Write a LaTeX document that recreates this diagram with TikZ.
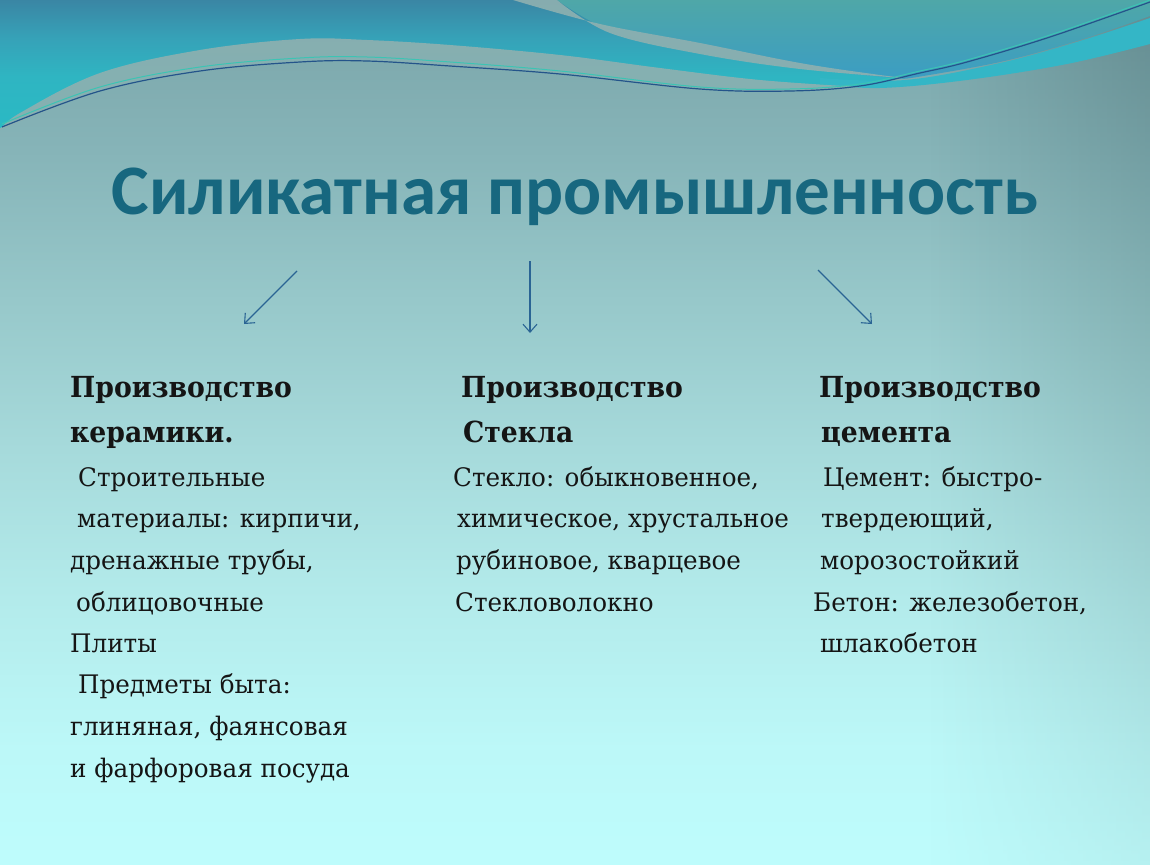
\documentclass[tikz,border=0pt]{standalone}
\usepackage{fontspec}
\setmainfont{DejaVu Serif}
\newfontfamily\bodyfont{DejaVu Serif}[FakeStretch=0.965]
\newfontfamily\headfont{DejaVu Serif}[FakeStretch=0.92]
\newfontfamily\titlefont{Carlito}
\usetikzlibrary{arrows.meta,fadings}
\definecolor{bg1}{HTML}{7AA4A8}
\definecolor{bg2}{HTML}{86B4B8}
\definecolor{bg3}{HTML}{97C8CA}
\definecolor{bg4}{HTML}{A6DADB}
\definecolor{bg5}{HTML}{B3EBEB}
\definecolor{bg6}{HTML}{BCF8F8}
\definecolor{bg7}{HTML}{BEFCFC}
\definecolor{tl1}{HTML}{3A86A4}
\definecolor{tl2}{HTML}{36A2B8}
\definecolor{tl3}{HTML}{2FB5C2}
\definecolor{tl4}{HTML}{2AB9C4}
\definecolor{rtop}{HTML}{4FA7A8}
\definecolor{rbot}{HTML}{3B9DC3}
\definecolor{turq}{HTML}{34B6C6}
\definecolor{grayband}{HTML}{8DB0B0}
\definecolor{darkline}{HTML}{24548A}
\definecolor{greenline}{HTML}{3CC4B4}
\definecolor{titlecol}{HTML}{17677F}
\definecolor{txtcol}{HTML}{151515}
\definecolor{arrcol}{HTML}{2A6494}
\definecolor{edgetop}{HTML}{4F7479}
\definecolor{edgebot}{HTML}{AEE6E6}
\pgfdeclareverticalshading{bgshade}{100bp}{color(0bp)=(bg7); color(25bp)=(bg7); color(31.6bp)=(bg6); color(40.3bp)=(bg5); color(49bp)=(bg4); color(57.6bp)=(bg3); color(66.3bp)=(bg2); color(75bp)=(bg1); color(100bp)=(bg1)}
\pgfdeclareverticalshading{tealshade}{100bp}{color(0bp)=(tl4); color(25bp)=(tl4); color(45bp)=(tl3); color(60bp)=(tl2); color(75bp)=(tl1); color(100bp)=(tl1)}
\tikzset{
  body/.style={anchor=base west, inner sep=0pt, text=txtcol, font=\bodyfont\fontsize{25.5}{30}\selectfont},
  head/.style={anchor=base west, inner sep=0pt, text=txtcol, font=\headfont\bfseries\fontsize{29}{34}\selectfont},
  arr/.style={draw=arrcol, line width=1.1pt, -{Straight Barb[length=8pt,width=14pt,line width=1.1pt]}}
}
\begin{document}
\begin{tikzpicture}[x=1pt,y=-1pt]
\useasboundingbox (0,0) rectangle (1150,864);
% background
\shade[shading=bgshade] (0,0) rectangle (1150,864);
\shade[top color=edgetop, bottom color=edgebot, path fading=west, opacity=0.5] (930,0) rectangle (1150,864);
% top teal region
\shade[shading=tealshade] (0,0) -- (0,128) -- plot[smooth, tension=0.6] coordinates {(0,128) (100,91) (200,71) (300,62) (367,61) (450,66) (560,74) (700,89) (790,91) (860,86) (920,73) (967,62) (1050,37) (1150,2)} -- (1150,0) -- cycle;
% top right region
\shade[top color=rtop, bottom color=rbot] (557,0) -- plot[smooth, tension=0.6] coordinates {(557,0) (610,30) (700,52) (800,68) (905,79)} -- plot[smooth, tension=0.6] coordinates {(905,79) (1000,62) (1080,40) (1150,16)} -- (1150,0) -- cycle;
% turquoise band on the right
\fill[turq] plot[smooth, tension=0.6] coordinates {(820,78) (905,80) (1000,63) (1080,41) (1150,18)} -- (1150,44) -- plot[smooth, tension=0.6] coordinates {(1150,44) (1067,64) (967,80) (880,88) (820,84)} -- cycle;
% lower gray band
\fill[grayband, opacity=0.92] plot[smooth, tension=0.6] coordinates {(0,130) (20,113) (100,73) (200,50) (300,39) (367,40) (450,45) (560,55) (660,68) (760,80) (860,87)} -- plot[smooth, tension=0.6] coordinates {(860,87) (790,91) (700,89) (560,74) (450,66) (367,61) (300,62) (200,71) (100,91) (0,130)} -- cycle;
% upper gray band
\fill[grayband, opacity=0.92] plot[smooth, tension=0.6] coordinates {(513,0) (600,24) (700,43) (800,63) (880,75) (915,79)} -- plot[smooth, tension=0.6] coordinates {(915,79) (800,69) (700,54) (610,33) (557,0)} -- cycle;
% thin lines
\draw[greenline, line width=1pt] plot[smooth, tension=0.6] coordinates {(2,124) (100,87) (200,67) (300,58) (367,57) (450,62) (560,71) (700,87) (790,89) (860,84) (920,71) (967,60) (1050,35) (1150,0)};
\draw[darkline, line width=1.2pt] plot[smooth, tension=0.6] coordinates {(2,127) (100,91) (200,71) (300,62) (367,61) (450,66) (560,74) (700,89) (790,91) (860,86) (920,73) (967,62) (1050,37) (1150,2)};
% title
\node[anchor=base, inner sep=0pt, text=titlecol, font=\titlefont\bfseries\fontsize{71}{80}\selectfont] (title) at (575,214) {Силикатная промышленность};
% arrows
\coordinate (a1s) at (297,271); \coordinate (a1e) at (244,324);
\coordinate (a2s) at (530,261); \coordinate (a2e) at (530,333);
\coordinate (a3s) at (818,270); \coordinate (a3e) at (872,324);
\draw[arr] (a1s) -- (a1e);
\draw[arr] (a2s) -- (a2e);
\draw[arr] (a3s) -- (a3e);
% left column
\node[head] (l1) at (70,397) {Производство};
\node[head] (l2) at (70,442) {керамики.};
\node[body] (l3) at (78,486) {Строительные};
\node[body] (l4) at (77,527) {материалы: кирпичи,};
\node[body] (l5) at (70,569) {дренажные трубы,};
\node[body] (l6) at (76,611) {облицовочные};
\node[body] (l7) at (70,652) {Плиты};
\node[body] (l8) at (78,693) {Предметы быта:};
\node[body] (l9) at (70,735) {глиняная, фаянсовая};
\node[body] (l10) at (70,777) {и фарфоровая посуда};
% middle column
\node[head] (m1) at (461,397) {Производство};
\node[head] (m2) at (463,442) {Стекла};
\node[body] (m3) at (453,486) {Стекло: обыкновенное,};
\node[body] (m4) at (457,527) {химическое, хрустальное};
\node[body] (m5) at (456,569) {рубиновое, кварцевое};
\node[body] (m6) at (455,611) {Стекловолокно};
% right column
\node[head] (r1) at (819,397) {Производство};
\node[head] (r2) at (821,442) {цемента};
\node[body] (r3) at (823,486) {Цемент: быстро-};
\node[body] (r4) at (821,527) {твердеющий,};
\node[body] (r5) at (820,569) {морозостойкий};
\node[body] (r6) at (813,611) {Бетон: железобетон,};
\node[body] (r7) at (820,652) {шлакобетон};
\end{tikzpicture}
\end{document}
